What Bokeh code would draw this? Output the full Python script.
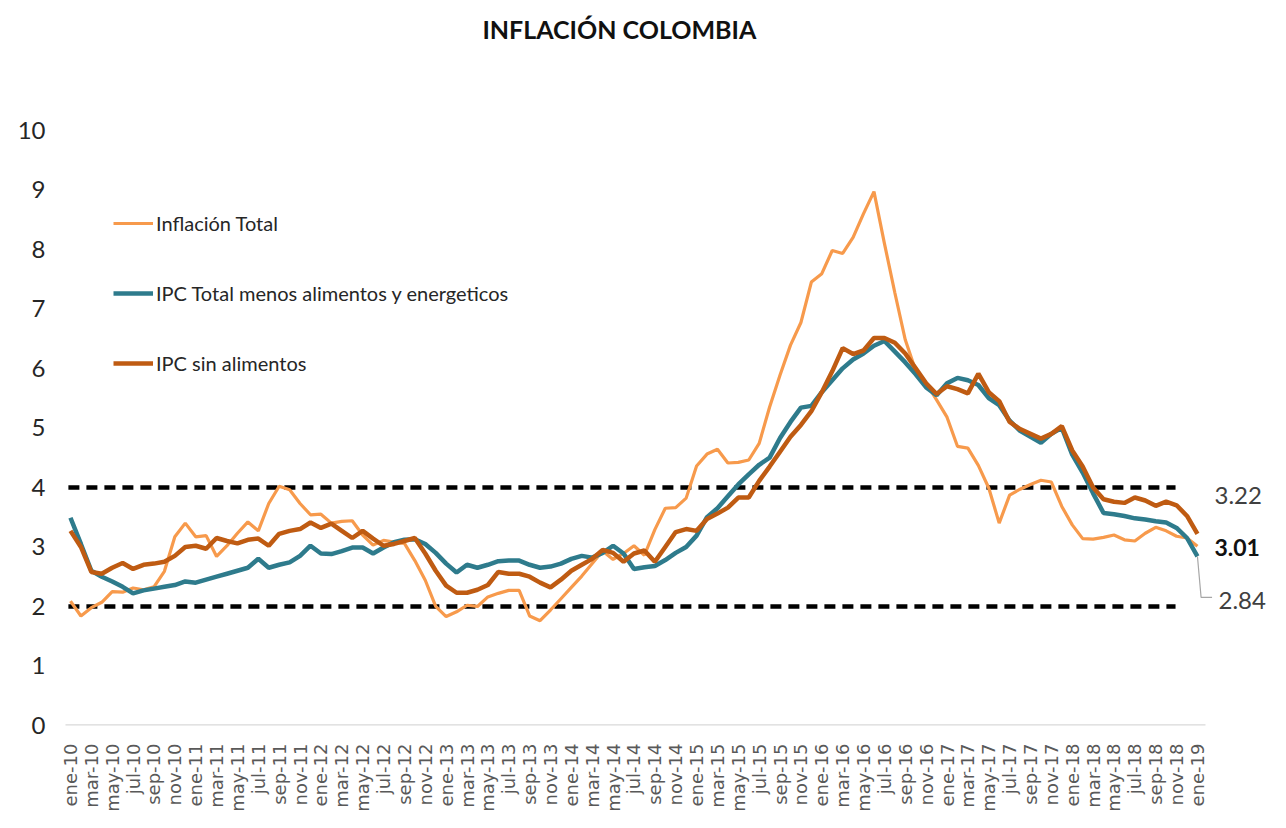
import math
from bokeh.plotting import figure
from bokeh.models import Range1d, FixedTicker, Legend, LegendItem, Label
from bokeh.embed import file_html
from bokeh.resources import INLINE

# ---------------- data ----------------
meses = ["ene", "feb", "mar", "abr", "may", "jun", "jul", "ago", "sep", "oct", "nov", "dic"]
n_meses = 109
categorias = [f"{meses[i % 12]}-{10 + i // 12}" for i in range(n_meses)]

inflacion_total = [
    2.09, 1.84, 1.98, 2.07, 2.25, 2.24, 2.31, 2.28, 2.33, 2.59, 3.17,
    3.40, 3.17, 3.19, 2.84, 3.02, 3.23, 3.42, 3.27, 3.73, 4.02, 3.96, 3.73,
    3.54, 3.55, 3.40, 3.43, 3.44, 3.20, 3.03, 3.11, 3.08, 3.06, 2.77, 2.44,
    2.00, 1.83, 1.91, 2.02, 2.00, 2.16, 2.22, 2.27, 2.27, 1.84, 1.76, 1.94,
    2.13, 2.32, 2.51, 2.72, 2.93, 2.79, 2.89, 3.02, 2.86, 3.29, 3.65, 3.66,
    3.82, 4.36, 4.56, 4.64, 4.41, 4.42, 4.46, 4.74, 5.35, 5.89, 6.39, 6.77,
    7.45, 7.59, 7.98, 7.93, 8.20, 8.60, 8.97, 8.10, 7.27, 6.48, 5.96, 5.75,
    5.47, 5.18, 4.69, 4.66, 4.37, 3.99, 3.40, 3.87, 3.97, 4.05, 4.12, 4.09,
    3.68, 3.37, 3.14, 3.13, 3.16, 3.20, 3.12, 3.10, 3.23, 3.33, 3.27, 3.18,
    3.15, 3.01,
]

ipc_sin_alim_energ = [
    3.49, 3.05, 2.60, 2.50, 2.42, 2.33, 2.22, 2.27, 2.30, 2.33, 2.36,
    2.42, 2.40, 2.45, 2.50, 2.55, 2.60, 2.65, 2.80, 2.65, 2.70,
    2.74, 2.85, 3.02, 2.89, 2.88, 2.93, 2.99, 2.99, 2.89, 2.99,
    3.08, 3.12, 3.13, 3.05, 2.90, 2.72, 2.57, 2.70, 2.65, 2.70,
    2.76, 2.77, 2.77, 2.70, 2.65, 2.67, 2.72, 2.80, 2.85, 2.82,
    2.90, 3.02, 2.89, 2.63, 2.66, 2.68, 2.78, 2.90, 3.00, 3.19,
    3.50, 3.65, 3.85, 4.05, 4.22, 4.38, 4.50, 4.83, 5.10, 5.34,
    5.37, 5.60, 5.80, 6.00, 6.15, 6.25, 6.38, 6.46, 6.28, 6.10,
    5.90, 5.68, 5.55, 5.75, 5.84, 5.80, 5.72, 5.50, 5.38, 5.12,
    4.95, 4.85, 4.75, 4.90, 5.00, 4.55, 4.25, 3.90, 3.57, 3.55,
    3.52, 3.48, 3.46, 3.43, 3.41, 3.32, 3.15, 2.84,
]

ipc_sin_alimentos = [
    3.27, 3.00, 2.58, 2.55, 2.65, 2.73, 2.63, 2.70, 2.72, 2.75, 2.85,
    3.00, 3.02, 2.97, 3.15, 3.10, 3.06, 3.12, 3.14, 3.02, 3.22,
    3.27, 3.30, 3.41, 3.32, 3.39, 3.27, 3.15, 3.27, 3.14, 3.02,
    3.05, 3.10, 3.15, 2.89, 2.60, 2.35, 2.23, 2.23, 2.28, 2.36,
    2.58, 2.55, 2.55, 2.50, 2.40, 2.32, 2.45, 2.60, 2.70, 2.80,
    2.95, 2.90, 2.75, 2.89, 2.94, 2.75, 3.00, 3.25, 3.30, 3.27,
    3.47, 3.56, 3.66, 3.83, 3.83, 4.11, 4.35, 4.60, 4.85, 5.05,
    5.28, 5.60, 5.95, 6.34, 6.24, 6.30, 6.51, 6.51, 6.43, 6.25,
    6.00, 5.75, 5.57, 5.70, 5.65, 5.58, 5.91, 5.60, 5.45, 5.10,
    4.98, 4.90, 4.82, 4.90, 5.03, 4.62, 4.35, 4.00, 3.80, 3.76,
    3.74, 3.83, 3.78, 3.69, 3.76, 3.70, 3.52, 3.22,
]

rango_meta = [2, 4]
y_ticks = list(range(0, 11))
titulo = "INFLACIÓN COLOMBIA"

# ---------------- styles ----------------
C_TOTAL = "#F79A4C"
C_CORE = "#2E7B8C"
C_SINALIM = "#BF5B12"
FONT = "Lato"

x = list(range(n_meses))
last = n_meses - 1

p = figure(
    width=1270, height=820,
    x_range=Range1d(-1.34, 115.0),
    y_range=Range1d(0, 12.18),
    output_backend="svg", toolbar_location=None,
    min_border_left=56, min_border_right=0,
    min_border_top=0, min_border_bottom=95,
)
p.outline_line_color = None
p.background_fill_color = "white"
p.border_fill_color = "white"
p.xgrid.visible = False
p.ygrid.visible = False

# x baseline (category axis line)
p.line([-0.48, last + 0.77], [0, 0], line_color="#D9D9D9", line_width=2.5)

# target band dashed lines
for v in rango_meta:
    p.line([-0.2, last - 2.1], [v, v], line_color="black", line_width=4.5,
           line_dash="11 7")

r_total = p.line(x, inflacion_total, line_color=C_TOTAL, line_width=3.2)
r_core = p.line(x, ipc_sin_alim_energ, line_color=C_CORE, line_width=4.5)
r_sin = p.line(x, ipc_sin_alimentos, line_color=C_SINALIM, line_width=4.5)

# axes
p.xaxis.ticker = FixedTicker(ticks=list(range(0, n_meses, 2)))
p.xaxis.major_label_overrides = {i: categorias[i] for i in range(0, n_meses, 2)}
p.xaxis.major_label_orientation = math.pi / 2
p.xaxis.major_label_text_font = "DejaVu Sans"
p.xaxis.major_label_text_font_size = "18px"
p.xaxis.major_label_text_color = "#595959"
p.xaxis.major_tick_line_color = None
p.xaxis.minor_tick_line_color = None
p.xaxis.axis_line_color = None
p.xaxis.major_label_standoff = 12

p.yaxis.ticker = FixedTicker(ticks=y_ticks)
p.yaxis.axis_line_color = None
p.yaxis.major_tick_line_color = None
p.yaxis.minor_tick_line_color = None
p.yaxis.major_label_text_font = FONT
p.yaxis.major_label_text_font_size = "24px"
p.yaxis.major_label_text_color = "#262626"
p.yaxis.major_label_standoff = 5

# legend
legend = Legend(items=[
    LegendItem(label="Inflación Total", renderers=[r_total]),
    LegendItem(label="IPC Total menos alimentos y energeticos", renderers=[r_core]),
    LegendItem(label="IPC sin alimentos", renderers=[r_sin]),
])
legend.location = (57, 350)
legend.border_line_color = None
legend.background_fill_alpha = 0
legend.padding = 0
legend.margin = 0
legend.spacing = 46
legend.glyph_width = 40
legend.glyph_height = 24
legend.label_height = 24
legend.label_standoff = 3
legend.label_text_font = FONT
legend.label_text_font_size = "20px"
legend.label_text_color = "#262626"
p.add_layout(legend, "center")

# end labels
p.add_layout(Label(x=last, y=ipc_sin_alimentos[-1], text=f"{ipc_sin_alimentos[-1]:.2f}",
                   x_offset=17, y_offset=38, text_baseline="middle",
                   text_font=FONT, text_font_size="24px", text_color="#404040"))
p.add_layout(Label(x=last, y=inflacion_total[-1], text=f"{inflacion_total[-1]:.2f}",
                   x_offset=17, y_offset=-1, text_baseline="middle",
                   text_font=FONT, text_font_size="23px", text_font_style="bold",
                   text_color="#111111"))
p.add_layout(Label(x=last, y=ipc_sin_alim_energ[-1], text=f"{ipc_sin_alim_energ[-1]:.2f}",
                   x_offset=21, y_offset=-44, text_baseline="middle",
                   text_font=FONT, text_font_size="24px", text_color="#404040"))
# leader line for the core label
drop = 41 / 59.5
p.line([last, last + 0.35, last + 1.4],
       [ipc_sin_alim_energ[-1], ipc_sin_alim_energ[-1] - drop, ipc_sin_alim_energ[-1] - drop],
       line_color="#A6A6A6", line_width=1.2)

# title (inside the frame's top band)
p.add_layout(Label(x=52.6, y=11.7, text=titulo, text_align="center",
                   text_baseline="middle", text_font=FONT, text_font_size="25px",
                   text_font_style="bold", text_color="#111111"))

open("out.html", "w").write(file_html(p, INLINE))
